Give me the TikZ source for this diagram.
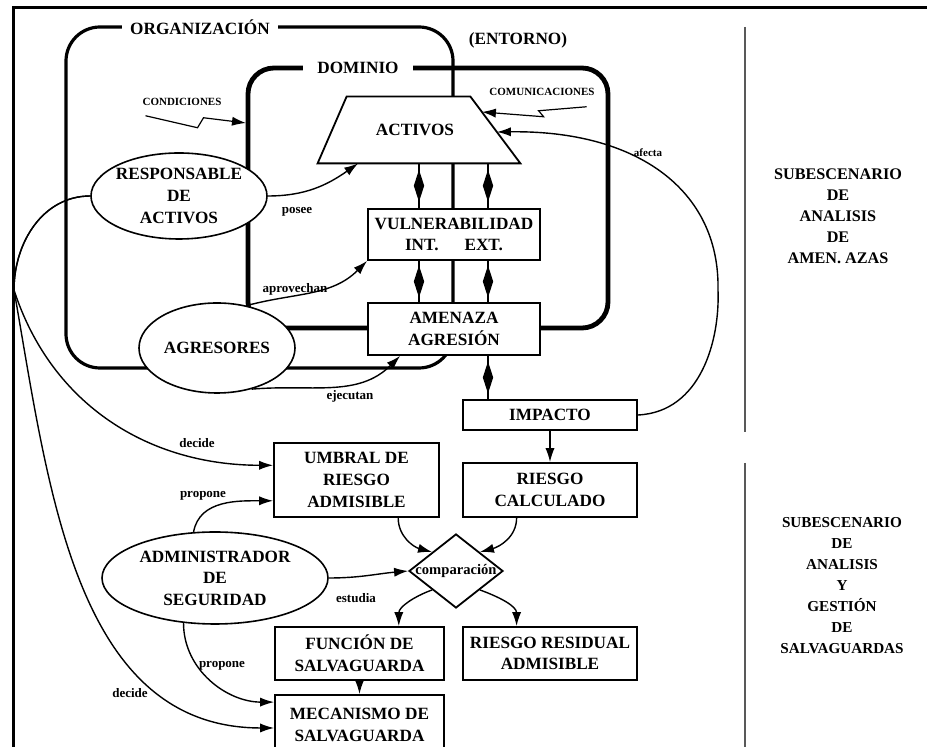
\documentclass[tikz,border=0pt]{standalone}
\usepackage{fontspec}
\setmainfont{Liberation Serif}
\usepackage{tikz}
\usetikzlibrary{shapes.geometric,arrows.meta,positioning,calc,decorations.markings}

\newcommand{\boxfnt}{\fontsize{8.6}{10.8}\selectfont\bfseries}
\newcommand{\lblfnt}{\fontsize{6.5}{7}\selectfont\bfseries}
\newcommand{\tinyfnt}{\fontsize{5.5}{6}\selectfont\bfseries}
\newcommand{\sidefnt}{\fontsize{8.1}{10.5}\selectfont\bfseries}
\newcommand{\sidefntb}{\fontsize{7.6}{10.5}\selectfont\bfseries}

\begin{document}
\begin{tikzpicture}[x=0.5pt, y=-0.5pt,
    box/.style={draw, fill=white, line width=0.9pt, align=center, font=\boxfnt, inner sep=1pt},
    oval/.style={ellipse, draw, fill=white, line width=0.8pt, align=center, font=\boxfnt, inner sep=0pt},
    conn/.style={-{Latex[length=7pt,width=4.6pt]}, line width=0.7pt},
    lbl/.style={font=\lblfnt, inner sep=1pt},
    dblarrow/.style={line width=0.6pt, postaction={decorate},
        decoration={markings, mark=at position 0.5 with {\fill (-8pt,0pt) -- (0pt,2.6pt) -- (8pt,0pt) -- (0pt,-2.6pt) -- cycle;}}}]
    \path[use as bounding box] (0,0) rectangle (927,747);

    % Frame and separator
    \draw[line width=1.5pt] (13,752) -- (13,8) -- (932,8);
    \draw[line width=0.8pt, black!65] (745,27) -- (745,432);
    \draw[line width=0.8pt, black!65] (745,463) -- (745,752);

    % Organizacion and dominio
    \draw[line width=1.6pt, rounded corners=17pt] (66,27) rectangle (453,368);
    \draw[line width=2.4pt, rounded corners=13pt] (248,68) rectangle (608,328);
    \node[fill=white, font=\boxfnt, inner xsep=4pt, inner ysep=1pt] (orgtit) at (200,27) {ORGANIZACIÓN};
    \node[fill=white, font=\boxfnt, inner xsep=7pt, inner ysep=1pt] (domtit) at (358,68) {DOMINIO};
    \node[font=\boxfnt] (entorno) at (518,40) {(ENTORNO)};

    % Activos (trapezoid)
    \node[minimum width=101pt, minimum height=33pt, inner sep=0pt] (activos) at (419,130) {};
    \coordinate (actTL) at ($(activos.north west)+(29,0)$);
    \coordinate (actTR) at ($(activos.north east)+(-50,0)$);
    \filldraw[fill=white, line width=0.9pt] (activos.south west) -- (actTL) -- (actTR) -- (activos.south east) -- cycle;
    \node[font=\boxfnt] (acttxt) at ($(activos)+(-4,0)$) {ACTIVOS};

    % Upper chain
    \node[box, minimum width=86pt, minimum height=25.5pt] (vuln) at (454,234.5) {VULNERABILIDAD\\INT.\hspace{13pt}EXT.};
    \node[box, minimum width=86pt, minimum height=26pt] (amen) at (454,329) {AMENAZA\\AGRESIÓN};
    \node[box, minimum width=87pt, minimum height=15pt] (impacto) at (550,415) {IMPACTO};
    \node[box, minimum width=87pt, minimum height=27pt] (calc) at (550,490) {RIESGO\\CALCULADO};

    % Lower chain
    \node[box, minimum width=82.5pt, minimum height=37pt] (umbral) at (356.5,480) {UMBRAL DE\\RIESGO\\ADMISIBLE};
    \node[diamond, draw, fill=white, line width=0.9pt, minimum width=47pt, minimum height=37pt, inner sep=0pt] (comp) at (456,571) {};
    \node[font=\fontsize{7.3}{8}\selectfont\bfseries, inner sep=0pt] (comptxt) at (comp) {comparación};
    \node[box, minimum width=84.5pt, minimum height=26.5pt] (func) at (359.5,653.5) {FUNCIÓN DE\\SALVAGUARDA};
    \node[box, minimum width=87pt, minimum height=26.5pt] (resid) at (550,653.5) {RIESGO RESIDUAL\\ADMISIBLE};
    \node[box, minimum width=84.5pt, minimum height=30pt] (mecan) at (359.5,725) {MECANISMO DE\\SALVAGUARDA};

    % Actors
    \node[oval, minimum width=88pt, minimum height=43pt, inner xsep=-3pt] (resp) at (179,196) {RESPONSABLE\\DE\\ACTIVOS};
    \node[oval, minimum width=78pt, minimum height=45pt] (agres) at (217,348) {AGRESORES};
    \node[oval, minimum width=113pt, minimum height=46pt] (admin) at (215,578) {ADMINISTRADOR\\DE\\SEGURIDAD};

    % Side texts
    \node[font=\sidefnt, align=center] (sub1) at (838,216) {SUBESCENARIO\\DE\\ANALISIS\\DE\\AMEN. AZAS};
    \node[font=\sidefntb, align=center] (sub2) at (842,586) {SUBESCENARIO\\DE\\ANALISIS\\Y\\GESTIÓN\\DE\\SALVAGUARDAS};

    % Two-way links
    \coordinate (colA) at (419,0);
    \coordinate (colB) at (488,0);
    \draw[dblarrow] (activos.south -| colA) -- (vuln.north -| colA);
    \draw[dblarrow] (activos.south -| colB) -- (vuln.north -| colB);
    \draw[dblarrow] (vuln.south -| colA) -- (amen.north -| colA);
    \draw[dblarrow] (vuln.south -| colB) -- (amen.north -| colB);
    \draw[dblarrow] (amen.south -| colB) -- (impacto.north -| colB);

    % Straight arrows
    \draw[conn] (impacto) -- (calc);
    \draw[conn] (func) -- (mecan);

    % Outside influences
    \node[font=\tinyfnt] (cond) at (182,102) {CONDICIONES};
    \coordinate (condtip) at (246,123);
    \draw[conn, line width=0.6pt] ($(cond.south west)+(10,3)$) -- ++(52,12) -- ++(6,-10) -- (condtip);
    \node[font=\tinyfnt] (comu) at (542,92) {COMUNICACIONES};
    \coordinate (comtip) at ($(activos.south east)!0.77!(actTR)$);
    \draw[conn, line width=0.6pt] ($(comu.south east)+(-15,4)$) -- ++(-48,4) -- ++(5,6) -- (comtip);

    % Actor links
    \draw[conn] (resp.east) to[out=0,in=215] ($(activos.south west)!0.2!(activos.south east)$);
    \node[lbl] (posee) at (297,212) {posee};
    \draw[conn] (agres.55) to[out=15,in=225] (vuln.south west);
    \node[lbl] (aprov) at (295,289) {aprovechan};
    \draw[conn] (agres.-50) to[out=5,in=225] ($(amen.south west)!0.19!(amen.south east)$);
    \node[lbl] (ejec) at (350,396) {ejecutan};
    \coordinate (afv) at (718,290);
    \draw[conn] (impacto.east) .. controls +(63,-3) and +(2,50) .. (afv) .. controls +(2,-100) and +(140,-2) .. ($(activos.south east)!0.47!(actTR)$);
    \node[lbl, font=\tinyfnt] (afecta) at (648,153) {afecta};

    % Decisions
    \coordinate (lc) at (14,290);
    \draw[conn] (resp.west) to[out=180,in=90] (lc) to[out=-72,in=180] (umbral.170);
    \draw[conn] (resp.west) to[out=180,in=90] (lc) to[out=-80,in=180] (mecan.182);
    \node[lbl] (dec1) at (197,443) {decide};
    \node[lbl] (dec2) at (130,693) {decide};
    \draw[conn] (admin.115) to[out=80,in=180] (umbral.194);
    \node[lbl] (prop1) at (203,496) {propone};
    \draw[conn] (admin.235) to[out=-90,in=180] (mecan.165);
    \node[lbl] (prop2) at (222,666) {propone};
    \draw[conn] (admin.east) to[out=0,in=185] (comp.west);
    \node[lbl] (estud) at (356,598) {estudia};

    % Comparison
    \draw[conn] ($(umbral.south west)!0.75!(umbral.south east)$) to[out=-90,in=165] (comp.north west);
    \draw[conn] ($(calc.south west)!0.31!(calc.south east)$) to[out=-90,in=15] (comp.north east);
    \draw[conn] (comp.south west) to[out=200,in=90] ($(func.north west)!0.73!(func.north east)$);
    \draw[conn] (comp.south east) to[out=-20,in=90] ($(resid.north west)!0.31!(resid.north east)$);
\end{tikzpicture}
\end{document}
